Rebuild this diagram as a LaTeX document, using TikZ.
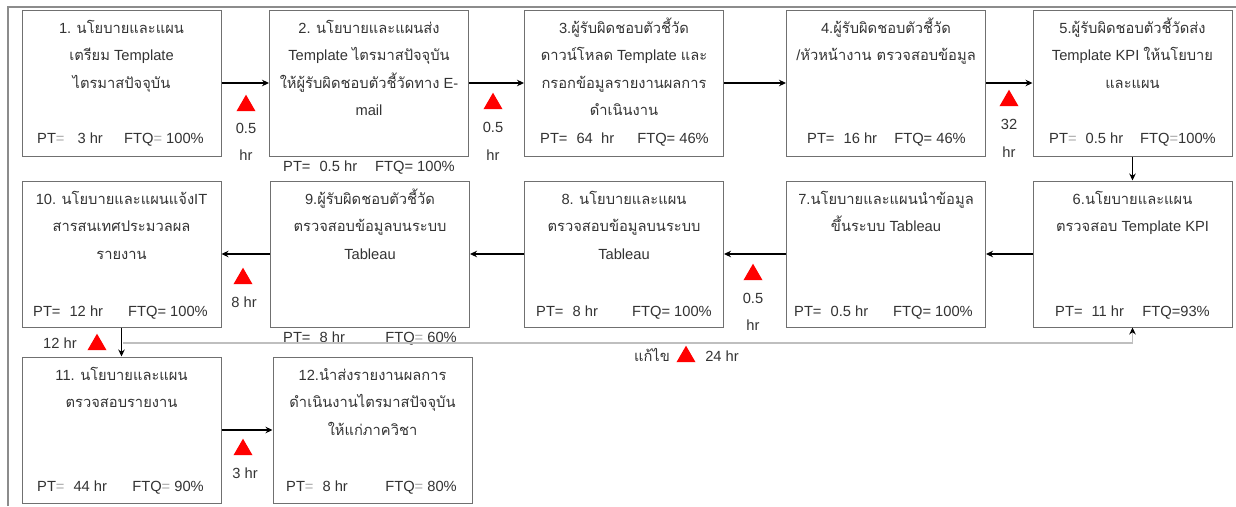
\documentclass[tikz,border=0pt]{standalone}
\usepackage{fontspec}
\setmainfont{Liberation Sans}
\newfontfamily\thf[Script=Thai]{Loma}
\usetikzlibrary{arrows.meta,shapes.geometric}
\definecolor{txt}{HTML}{333333}
\definecolor{bord}{HTML}{707070}
\definecolor{fbk}{HTML}{BFBFBF}
\definecolor{frm}{HTML}{8C8C8C}
\definecolor{eqc}{HTML}{A8A8A8}
\newcommand\gq{\textcolor{eqc}{=}}
\newcommand\gp{\hspace{9pt}}
\newcommand\fs{\fontsize{14.7}{27.5}\selectfont}
\tikzset{
 box/.style={draw=bord, line width=1pt, minimum width=199pt, minimum height=146pt, inner sep=0},
 ttl/.style={anchor=north, align=center, inner sep=0, text=txt, font=\fs},
 lbl/.style={inner sep=0, text=txt, font=\fs, anchor=base west},
 lbe/.style={inner sep=0, text=txt, font=\fs, anchor=base east},
 lbc/.style={inner sep=0, text=txt, font=\fs, anchor=base},
 arr/.style={line width=1.5pt, -{Stealth[length=7pt,width=6.5pt]}},
 fbline/.style={line width=1.5pt, draw=fbk, -{Stealth[length=7pt,width=6.5pt,color=black]}},
 tri/.style={regular polygon, regular polygon sides=3, fill=red, minimum size=22pt, inner sep=0}
}
\begin{document}
\begin{tikzpicture}[x=1pt,y=-1pt]
\useasboundingbox (0,0) rectangle (1236,506);
% outer frame
\draw[frm, line width=2pt] (8,506) -- (8,7) -- (1236,7);
% boxes
\node[box] (b1) at (121.5,83) {};
\node[box] (b2) at (369,83) {};
\node[box] (b3) at (624,83) {};
\node[box] (b4) at (886,83) {};
\node[box] (b5) at (1132.5,83) {};
\node[box] (b10) at (121.5,254) {};
\node[box] (b9) at (370,254) {};
\node[box] (b8) at (624,254) {};
\node[box] (b7) at (886,254) {};
\node[box] (b6) at (1132.5,254) {};
\node[box] (b11) at (121.5,430) {};
\node[box] (b12) at (372.5,430) {};
% titles
\node[ttl] (t1) at (121.5,15) {\rule{0pt}{18pt}1. {\thf นโยบายและแผน}\\{\thf เตรียม} Template\\{\thf ไตรมาสปัจจุบัน}};
\node[ttl] (t2) at (369,15) {\rule{0pt}{18pt}2. {\thf นโยบายและแผนส่ง}\\Template {\thf ไตรมาสปัจจุบัน}\\{\thf ให้ผู้รับผิดชอบตัวชี้วัดทาง} E-\\mail};
\node[ttl] (t3) at (624,15) {\rule{0pt}{18pt}3.{\thf ผู้รับผิดชอบตัวชี้วัด}\\{\thf ดาวน์โหลด} Template {\thf และ}\\{\thf กรอกข้อมูลรายงานผลการ}\\{\thf ดำเนินงาน}};
\node[ttl] (t4) at (886,15) {\rule{0pt}{18pt}4.{\thf ผู้รับผิดชอบตัวชี้วัด}\\/{\thf หัวหน้างาน ตรวจสอบข้อมูล}};
\node[ttl] (t5) at (1132.5,15) {\rule{0pt}{18pt}5.{\thf ผู้รับผิดชอบตัวชี้วัดส่ง}\\Template KPI {\thf ให้นโยบาย}\\{\thf และแผน}};
\node[ttl] (t10) at (121.5,186) {\rule{0pt}{18pt}10. {\thf นโยบายและแผนแจ้ง}IT\\{\thf สารสนเทศประมวลผล}\\{\thf รายงาน}};
\node[ttl] (t9) at (370,186) {\rule{0pt}{18pt}9.{\thf ผู้รับผิดชอบตัวชี้วัด}\\{\thf ตรวจสอบข้อมูลบนระบบ}\\Tableau};
\node[ttl] (t8) at (624,186) {\rule{0pt}{18pt}8. {\thf นโยบายและแผน}\\{\thf ตรวจสอบข้อมูลบนระบบ}\\Tableau};
\node[ttl] (t7) at (886,186) {\rule{0pt}{18pt}7.{\thf นโยบายและแผนนำข้อมูล}\\{\thf ขึ้นระบบ} Tableau};
\node[ttl] (t6) at (1132.5,186) {\rule{0pt}{18pt}6.{\thf นโยบายและแผน}\\{\thf ตรวจสอบ} Template KPI};
\node[ttl] (t11) at (121.5,362) {\rule{0pt}{18pt}11. {\thf นโยบายและแผน}\\{\thf ตรวจสอบรายงาน}};
\node[ttl] (t12) at (372.5,362) {\rule{0pt}{18pt}12.{\thf นำส่งรายงานผลการ}\\{\thf ดำเนินงานไตรมาสปัจจุบัน}\\{\thf ให้แก่ภาควิชา}};
% PT / FTQ lines
\node[lbl] (p1) at (37,143) {PT\gq\hspace{13pt}3 hr}; \node[lbe] (f1) at (204,143) {FTQ\gq{} 100\%};
\node[lbl] (p2) at (283,171) {PT=\gp 0.5 hr}; \node[lbe] (f2) at (455,171) {FTQ= 100\%};
\node[lbl] (p3) at (540,143) {PT=\gp 64\ \ hr}; \node[lbe] (f3) at (709,143) {FTQ= 46\%};
\node[lbl] (p4) at (807,143) {PT=\gp 16 hr}; \node[lbe] (f4) at (966,143) {FTQ= 46\%};
\node[lbl] (p5) at (1049,143) {PT\gq\gp 0.5 hr}; \node[lbe] (f5) at (1216,143) {FTQ\gq100\%};
\node[lbl] (p10) at (33,316) {PT=\gp 12 hr}; \node[lbe] (f10) at (208,316) {FTQ= 100\%};
\node[lbl] (p9) at (283,342) {PT=\gp 8 hr}; \node[lbe] (f9) at (457,342) {FTQ\gq{} 60\%};
\node[lbl] (p8) at (536,316) {PT=\gp 8 hr}; \node[lbe] (f8) at (712,316) {FTQ= 100\%};
\node[lbl] (p7) at (794,316) {PT=\gp 0.5 hr}; \node[lbe] (f7) at (973,316) {FTQ= 100\%};
\node[lbl] (p6) at (1055,316) {PT=\gp 11 hr}; \node[lbe] (f6) at (1210,316) {FTQ=93\%};
\node[lbl] (p11) at (37,491) {PT\gq\gp 44 hr}; \node[lbe] (f11) at (204,491) {FTQ\gq{} 90\%};
\node[lbl] (p12) at (286,491) {PT\gq\gp 8 hr}; \node[lbe] (f12) at (457,491) {FTQ\gq{} 80\%};
% connectors
\draw[arr] (b1) -- (b2);
\draw[arr] (b2) -- (b3);
\draw[arr] (b3) -- (b4);
\draw[arr] (b4) -- (b5);
\draw[arr] (b5) -- (b6);
\draw[arr] (b6) -- (b7);
\draw[arr] (b7) -- (b8);
\draw[arr] (b8) -- (b9);
\draw[arr] (b9) -- (b10);
\draw[arr] (b10) -- (b11);
\draw[arr] (b11) -- (b12);
\coordinate (fbs) at (123,343);
\draw[fbline] (fbs) -| (b6.south);
% waiting-time markers
\node[tri] (w12) at (246,105.7) {};
\node[lbc] (w12a) at (246,133) {0.5}; \node[lbc] (w12b) at (246,160.5) {hr};
\node[tri] (w23) at (493,103.7) {};
\node[lbc] (w23a) at (493,132) {0.5}; \node[lbc] (w23b) at (493,160) {hr};
\node[tri] (w45) at (1009,100.7) {};
\node[lbc] (w45a) at (1009,129) {32}; \node[lbc] (w45b) at (1009,157) {hr};
\node[tri] (w910) at (243,278.7) {};
\node[lbc] (w910a) at (244,307) {8 hr};
\node[tri] (w78) at (753,274.7) {};
\node[lbc] (w78a) at (753,303) {0.5}; \node[lbc] (w78b) at (753,330.5) {hr};
\node[lbc] (w1011a) at (60,348) {12 hr};
\node[tri] (w1011) at (97,344.7) {};
\node[lbc] (wfa) at (652,361) {{\thf แก้ไข}};
\node[tri] (wf) at (686,356.7) {};
\node[lbc] (wfb) at (722,361) {24 hr};
\node[tri] (w1112) at (243,449.7) {};
\node[lbc] (w1112a) at (245,478) {3 hr};
\end{tikzpicture}
\end{document}
